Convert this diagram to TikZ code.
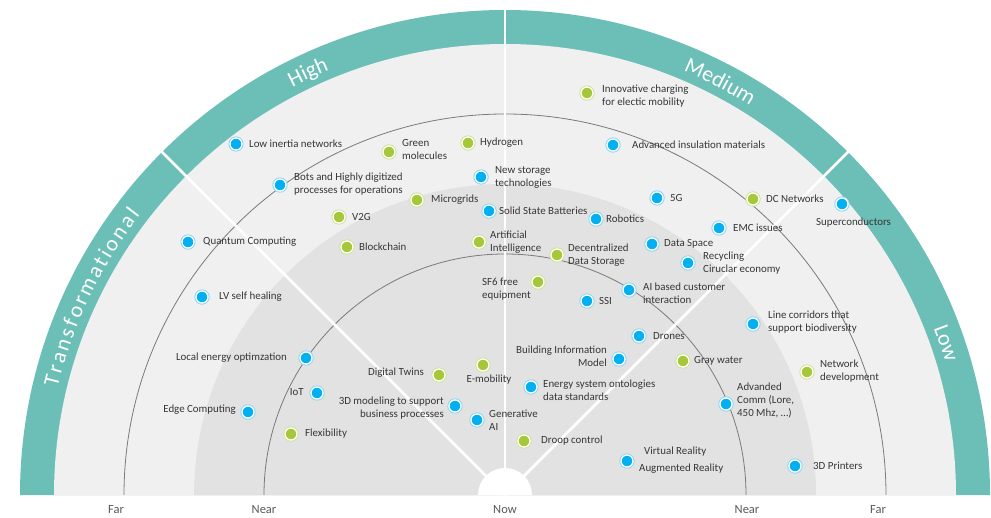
\documentclass[tikz,border=0pt]{standalone}
\usepackage{fontspec}
\setmainfont{Carlito}
\usetikzlibrary{decorations.text,calc}
\definecolor{bandteal}{HTML}{6CBFB7}
\definecolor{lightbg}{HTML}{F0F0F0}
\definecolor{darkbg}{HTML}{E2E2E2}
\definecolor{arcgray}{HTML}{7A7A7A}
\definecolor{dotblue}{HTML}{00B0F0}
\definecolor{ringblue}{HTML}{8AD6F5}
\definecolor{dotgreen}{HTML}{A5C739}
\definecolor{ringgreen}{HTML}{D0E294}
\definecolor{txt}{HTML}{363636}
\definecolor{axisc}{HTML}{595959}
\tikzset{
 dotbase/.style={circle, minimum size=12, inner sep=0, outer sep=0, draw=white, line width=1.3},
 bdot/.style={dotbase, fill=dotblue, preaction={draw=ringblue, line width=3.2}},
 gdot/.style={dotbase, fill=dotgreen, preaction={draw=ringgreen, line width=3.2}},
 lbl/.style={anchor=west, inner sep=0, align=left, font=\fontsize{10.9}{13}\selectfont, text=txt},
 lblr/.style={lbl, anchor=east, align=right},
 axislbl/.style={font=\fontsize{12.5}{14}\selectfont, text=axisc, inner sep=0},
 arcline/.style={draw=arcgray, line width=0.8},
 divider/.style={draw=white, line width=2.8},
 bandtext/.style={decorate, decoration={text along path, text align=center,
   text={|\color{white}\fontsize{22}{22}\selectfont|#1}}},
 bandtextfit/.style={decorate, decoration={text along path, text align=fit to path,
   text={|\color{white}\fontsize{22}{22}\selectfont|#1}}}
}
\begin{document}
\begin{tikzpicture}[x=1pt,y=1pt]
\useasboundingbox (0,0) rectangle (991,517);
\coordinate (C) at (505,22);
% background rings
\fill[bandteal] ($(C)+(485,0)$) arc[start angle=0,end angle=180,radius=485] -- cycle;
\fill[lightbg] ($(C)+(451,0)$) arc[start angle=0,end angle=180,radius=451] -- cycle;
\fill[darkbg] ($(C)+(311,0)$) arc[start angle=0,end angle=180,radius=311] -- cycle;
\draw[arcline] ($(C)+(381,0)$) arc[start angle=0,end angle=180,radius=381];
\draw[arcline] ($(C)+(241,0)$) arc[start angle=0,end angle=180,radius=241];
\foreach \a in {45,90,135} \draw[divider] (C) -- ($(C)+(\a:487)$);
\fill[white] ($(C)+(27,0)$) arc[start angle=0,end angle=180,radius=27] -- cycle;
% band labels
\path[bandtextfit=Transformational] ($(C)+(166.5:460)$) arc[start angle=166.5,end angle=142.5,radius=460];
\path[bandtext=High] ($(C)+(140:460)$) arc[start angle=140,end angle=90,radius=460];
\path[bandtext=Medium] ($(C)+(85:460)$) arc[start angle=85,end angle=40,radius=460];
\path[bandtext=Low] ($(C)+(38:460)$) arc[start angle=38,end angle=0,radius=460];
% axis labels
\node[axislbl] (ax1) at (116,7) {Far};
\node[axislbl] (ax2) at (264,7) {Near};
\node[axislbl] (ax3) at (505,7) {Now};
\node[axislbl] (ax4) at (747,7) {Near};
\node[axislbl] (ax5) at (878,7) {Far};
% items
\node[bdot] (d1) at (236,373) {}; \node[lbl] (l1) at (249,373) {Low inertia networks};
\node[gdot] (d2) at (389,365) {}; \node[lbl] (l2) at (402,367) {Green\\molecules};
\node[gdot] (d3) at (468,374) {}; \node[lbl] (l3) at (480,374) {Hydrogen};
\node[bdot] (d4) at (280,332) {}; \node[lbl] (l4) at (294,332.5) {Bots and Highly digitized\\processes for operations};
\node[gdot] (d5) at (417,317) {}; \node[lbl] (l5) at (431,317) {Microgrids};
\node[gdot] (d6) at (339,300) {}; \node[lbl] (l6) at (352,300) {V2G};
\node[bdot] (d7) at (188,275) {}; \node[lbl] (l7) at (203,275) {Quantum Computing};
\node[gdot] (d8) at (347,270) {}; \node[lbl] (l8) at (359,270) {Blockchain};
\node[gdot] (d9) at (587,424) {}; \node[lbl] (l9) at (602,420.5) {Innovative charging\\for electic mobility};
\node[bdot] (d10) at (613,372) {}; \node[lbl] (l10) at (632,372) {Advanced insulation materials};
\node[bdot] (d11) at (481,340) {}; \node[lbl] (l11) at (495,339.5) {New storage\\technologies};
\node[bdot] (d12) at (489,306) {}; \node[lbl] (l12) at (499,306) {Solid State Batteries};
\node[bdot] (d13) at (596,298) {}; \node[lbl] (l13) at (606,298) {Robotics};
\node[bdot] (d14) at (657,319) {}; \node[lbl] (l14) at (670,319) {5G};
\node[gdot] (d15) at (753,318) {}; \node[lbl] (l15) at (766,318) {DC Networks};
\node[bdot] (d16) at (719,289) {}; \node[lbl] (l16) at (733,289) {EMC issues};
\node[gdot] (d17) at (479,275) {}; \node[lbl] (l17) at (490,274.5) {Artificial\\Intelligence};
\node[gdot] (d18) at (557,262) {}; \node[lbl] (l18) at (568,262) {Decentralized\\Data Storage};
\node[bdot] (d19) at (652,273) {}; \node[lbl] (l19) at (664,273) {Data Space};
\node[bdot] (d20) at (688,254) {}; \node[lbl] (l20) at (703,253.5) {Recycling\\Ciruclar economy};
\node[bdot] (d21) at (842,313) {}; \node[lbl] (l21) at (816,294) {Superconductors};
\node[gdot] (d22) at (538,235) {}; \node[lbl] (l22) at (482,228) {SF6 free\\equipment};
\node[bdot] (d23) at (587,216) {}; \node[lbl] (l23) at (599,216) {SSI};
\node[bdot] (d24) at (629,227) {}; \node[lbl] (l24) at (643,223.5) {AI based customer\\interaction};
\node[bdot] (d25) at (639,181) {}; \node[lbl] (l25) at (653,181) {Drones};
\node[bdot] (d26) at (619,158) {}; \node[lblr] (l26) at (607,160.5) {Building Information\\Model};
\node[gdot] (d27) at (683,156) {}; \node[lbl] (l27) at (694,156) {Gray water};
\node[bdot] (d28) at (531,130) {}; \node[lbl] (l28) at (543,126.5) {Energy system ontologies\\data standards};
\node[bdot] (d29) at (726,113) {}; \node[lbl] (l29) at (737,117) {Advanded\\Comm (Lore,\\450 Mhz, …)};
\node[gdot] (d30) at (524,76) {}; \node[lbl] (l30) at (541,76) {Droop control};
\node[bdot] (d31) at (627,56) {}; \node[lbl] (l31a) at (644,65) {Virtual Reality};
\node[lbl] (l31b) at (639,48) {Augmented Reality};
\node[bdot] (d32) at (753,193) {}; \node[lbl] (l32) at (768,194.5) {Line corridors that\\support biodiversity};
\node[gdot] (d33) at (807,145) {}; \node[lbl] (l33) at (820,145.5) {Network\\development};
\node[bdot] (d34) at (795,51) {}; \node[lbl] (l34) at (813,51) {3D Printers};
\node[bdot] (d35) at (477,97) {}; \node[lbl] (l35) at (489,96.5) {Generative\\AI};
\node[bdot] (d36) at (202,220) {}; \node[lbl] (l36) at (219,220) {LV self healing};
\node[bdot] (d37) at (306,159) {}; \node[lblr] (l37) at (287,159) {Local energy optimzation};
\node[bdot] (d38) at (317,124) {}; \node[lblr] (l38) at (304,125) {IoT};
\node[bdot] (d39) at (248,105) {}; \node[lblr] (l39) at (236,107) {Edge Computing};
\node[gdot] (d40) at (291,83) {}; \node[lbl] (l40) at (305,83) {Flexibility};
\node[gdot] (d41) at (439,142) {}; \node[lblr] (l41) at (424,144) {Digital Twins};
\node[gdot] (d42) at (483,152) {}; \node[lbl, anchor=center] (l42) at (489,137) {E-mobility};
\node[bdot] (d43) at (455,111) {}; \node[lblr] (l43) at (444,108.5) {3D modeling to support\\business processes};
\end{tikzpicture}
\end{document}
